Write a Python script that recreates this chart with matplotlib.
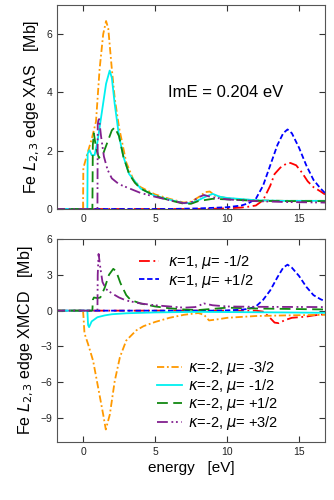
import matplotlib
matplotlib.use('Agg')
import matplotlib.pyplot as plt

plt.rcParams['font.family'] = ['Liberation Sans', 'DejaVu Sans']
plt.rcParams['mathtext.fontset'] = 'dejavusans'

# ---- XAS panel (top) ----
xas_r_x = [-2, 8, 10, 11, 11.5, 12, 12.5, 13, 13.3, 13.7, 14.1, 14.4, 14.8, 15.2, 15.6, 16, 16.5, 16.8]
xas_r_y = [0, 0, 0.02, 0.05, 0.08, 0.12, 0.3, 0.8, 1.2, 1.42, 1.55, 1.58, 1.5, 1.25, 0.95, 0.75, 0.6, 0.5]

xas_b_x = [-2, 6, 8, 10, 11, 11.5, 12, 12.5, 13, 13.5, 13.9, 14.2, 14.5, 15, 15.5, 16, 16.5, 16.8]
xas_b_y = [0, 0, 0.02, 0.06, 0.12, 0.2, 0.35, 0.8, 1.5, 2.2, 2.6, 2.73, 2.6, 2.1, 1.5, 1.0, 0.7, 0.55]

xas_o_x = [-2, 0.0, 0.02, 0.3, 0.6, 0.9, 1.15, 1.4, 1.6, 1.75, 2.0, 2.2, 2.5, 3.0, 3.5, 4.0,
           5.0, 6.0, 7.0, 7.5, 8.0, 8.5, 8.8, 9.2, 10, 11, 12, 14, 16.8]
xas_o_y = [0, 0, 1.4, 1.9, 2.4, 3.0, 4.8, 6.0, 6.45, 6.2, 4.8, 3.8, 2.8, 1.6, 1.0, 0.75,
           0.5, 0.35, 0.22, 0.25, 0.4, 0.58, 0.6, 0.45, 0.37, 0.33, 0.3, 0.28, 0.28]

xas_c_x = [-2, 0.3, 0.32, 0.45, 0.6, 0.8, 1.0, 1.3, 1.6, 1.85, 2.0, 2.2, 2.5, 2.8, 3.2, 4.0,
           5.0, 6.0, 7.0, 7.5, 8.0, 8.5, 9.0, 9.5, 10, 12, 14, 16.8]
xas_c_y = [0, 0, 1.9, 2.02, 1.85, 1.85, 2.3, 3.3, 4.3, 4.75, 4.5, 3.6, 2.5, 1.8, 1.2, 0.7,
           0.45, 0.32, 0.2, 0.2, 0.3, 0.42, 0.52, 0.42, 0.38, 0.3, 0.28, 0.28]

xas_g_x = [-2, 0.65, 0.68, 0.75, 0.9, 1.1, 1.4, 1.7, 2.0, 2.2, 2.5, 2.8, 3.2, 3.6, 4.0,
           5.0, 6.0, 7.0, 7.5, 8.0, 9.0, 10, 12, 14, 16.8]
xas_g_y = [0, 0, 2.2, 2.6, 2.1, 1.75, 1.9, 2.3, 2.7, 2.8, 2.5, 1.8, 1.2, 0.9, 0.7,
           0.45, 0.3, 0.18, 0.18, 0.27, 0.35, 0.33, 0.28, 0.27, 0.27]

xas_p_x = [-2, 1.0, 1.02, 1.1, 1.25, 1.45, 1.7, 2.0, 2.5, 3.0, 4.0, 5.0, 6.0, 7.0, 7.6,
           8.0, 8.4, 9.0, 10, 12, 14, 16.8]
xas_p_y = [0, 0, 2.9, 3.15, 2.5, 1.8, 1.35, 1.05, 0.85, 0.75, 0.55, 0.42, 0.3, 0.2, 0.25,
           0.4, 0.48, 0.4, 0.33, 0.27, 0.24, 0.22]

# ---- XMCD panel (bottom) ----
mcd_r_x = [-2, 12, 12.5, 12.9, 13.3, 13.6, 14.0, 14.5, 15.0, 15.5, 16, 16.8]
mcd_r_y = [0, 0, -0.08, -0.5, -1.0, -1.05, -0.8, -0.6, -0.55, -0.5, -0.4, -0.3]

mcd_b_x = [-2, 9, 10, 11, 11.5, 12, 12.5, 13, 13.5, 13.9, 14.2, 14.5, 15, 15.5, 16, 16.5, 16.8]
mcd_b_y = [0, 0, 0.02, 0.08, 0.15, 0.35, 0.9, 1.7, 2.8, 3.6, 3.85, 3.6, 2.9, 2.0, 1.3, 0.95, 0.8]

mcd_o_x = [-2, 0.0, 0.03, 0.1, 0.35, 0.7, 1.05, 1.4, 1.58, 1.86, 2.2, 2.56, 3.0, 3.7, 4.2,
           5, 6, 7, 8, 8.4, 8.75, 9.5, 10, 12, 14, 16.8]
mcd_o_y = [0, 0, -0.5, -1.9, -2.8, -4.2, -6.45, -8.7, -9.95, -8.7, -5.9, -3.9, -2.5, -1.65, -1.3,
           -0.95, -0.6, -0.35, -0.2, -0.35, -0.82, -0.7, -0.6, -0.45, -0.4, -0.35]

mcd_c_x = [-2, 0.3, 0.35, 0.42, 0.6, 1.0, 1.5, 2.0, 3.0, 5.0, 8.0, 10, 14, 16.8]
mcd_c_y = [0, 0, -1.2, -1.38, -0.9, -0.55, -0.4, -0.3, -0.22, -0.15, -0.1, -0.12, -0.15, -0.18]

mcd_g_x = [-2, 0.65, 0.68, 0.75, 1.0, 1.2, 1.5, 1.8, 2.1, 2.3, 2.6, 3.0, 3.3, 4.0, 5.0,
           6.0, 7.0, 8.0, 9.0, 10, 12, 16.8]
mcd_g_y = [0, 0, 0.9, 1.1, 1.05, 1.1, 1.9, 3.0, 3.5, 3.3, 2.3, 1.3, 0.9, 0.6, 0.35,
           0.2, 0.1, 0.05, 0.15, 0.25, 0.18, 0.1]

mcd_p_x = [-2, 1.0, 1.02, 1.08, 1.2, 1.35, 1.6, 2.0, 2.5, 3.0, 4.0, 5.0, 6.0, 7.0, 7.8,
           8.4, 9.0, 10, 12, 16.8]
mcd_p_y = [0, 0, 3.0, 4.75, 3.6, 2.4, 1.8, 1.45, 1.1, 0.85, 0.6, 0.45, 0.35, 0.25, 0.3,
           0.6, 0.45, 0.35, 0.32, 0.3]

labels = [r'$\kappa$=1, $\mu$= -1/2', r'$\kappa$=1, $\mu$= +1/2',
          r'$\kappa$=-2, $\mu$= -3/2', r'$\kappa$=-2, $\mu$= -1/2',
          r'$\kappa$=-2, $\mu$= +1/2', r'$\kappa$=-2, $\mu$= +3/2']

colors = ['#ff0000', '#0000ff', '#ff9900', '#00f0f0', '#118811', '#82208f']
styles = [(0, (6, 2, 1, 2)), (0, (3, 1.5)), (0, (4, 1.5, 1, 1.5)), '-',
          (0, (6, 3)), (0, (6, 2, 1, 1.5, 1, 2))]

xas = [(xas_r_x, xas_r_y), (xas_b_x, xas_b_y), (xas_o_x, xas_o_y),
       (xas_c_x, xas_c_y), (xas_g_x, xas_g_y), (xas_p_x, xas_p_y)]
mcd = [(mcd_r_x, mcd_r_y), (mcd_b_x, mcd_b_y), (mcd_o_x, mcd_o_y),
       (mcd_c_x, mcd_c_y), (mcd_g_x, mcd_g_y), (mcd_p_x, mcd_p_y)]

fig = plt.figure(figsize=(3.34, 5.0), dpi=100)
ax1 = fig.add_axes([0.171, 0.582, 0.802, 0.408])
ax2 = fig.add_axes([0.171, 0.116, 0.802, 0.406])

lines = []
for i in range(6):
    ax1.plot(xas[i][0], xas[i][1], color=colors[i], ls=styles[i], lw=1.3)
    l, = ax2.plot(mcd[i][0], mcd[i][1], color=colors[i], ls=styles[i], lw=1.3, label=labels[i])
    lines.append(l)

for ax in (ax1, ax2):
    ax.set_xlim(-1.8, 16.8)
    ax.set_xticks([0, 5, 10, 15])
    ax.tick_params(direction='in', top=True, right=True, length=4, width=0.8,
                   labelsize=7.5, colors='#333333', labelcolor='#222222')
    for s in ax.spines.values():
        s.set_color('#555555')
        s.set_linewidth(0.8)

ax1.set_ylim(0, 7)
ax1.set_yticks([0, 2, 4, 6])
ax1.set_ylabel(r'Fe $L_{2,3}$ edge XAS   [Mb]', fontsize=11.5, labelpad=3)
ax1.text(5.9, 4.0, 'ImE = 0.204 eV', fontsize=12, ha='left', va='center')

ax2.set_ylim(-11, 6)
ax2.set_yticks([-9, -6, -3, 0, 3, 6])
ax2.set_ylabel(r'Fe $L_{2,3}$ edge XMCD   [Mb]', fontsize=11.5, labelpad=3)
ax2.set_xlabel('energy   [eV]', fontsize=11, labelpad=3)

leg1 = ax2.legend(lines[:2], labels[:2], loc='upper left', bbox_to_anchor=(0.306, 0.93),
                  frameon=False, fontsize=10.5, handlelength=1.4, handletextpad=0.6,
                  labelspacing=0.02, borderpad=0, borderaxespad=0)
ax2.add_artist(leg1)
ax2.legend(lines[2:], labels[2:], loc='upper left', bbox_to_anchor=(0.373, 0.41),
           frameon=False, fontsize=10.5, handlelength=1.7, handletextpad=0.45,
           labelspacing=0.02, borderpad=0, borderaxespad=0)

fig.savefig('out.png', dpi=100)
